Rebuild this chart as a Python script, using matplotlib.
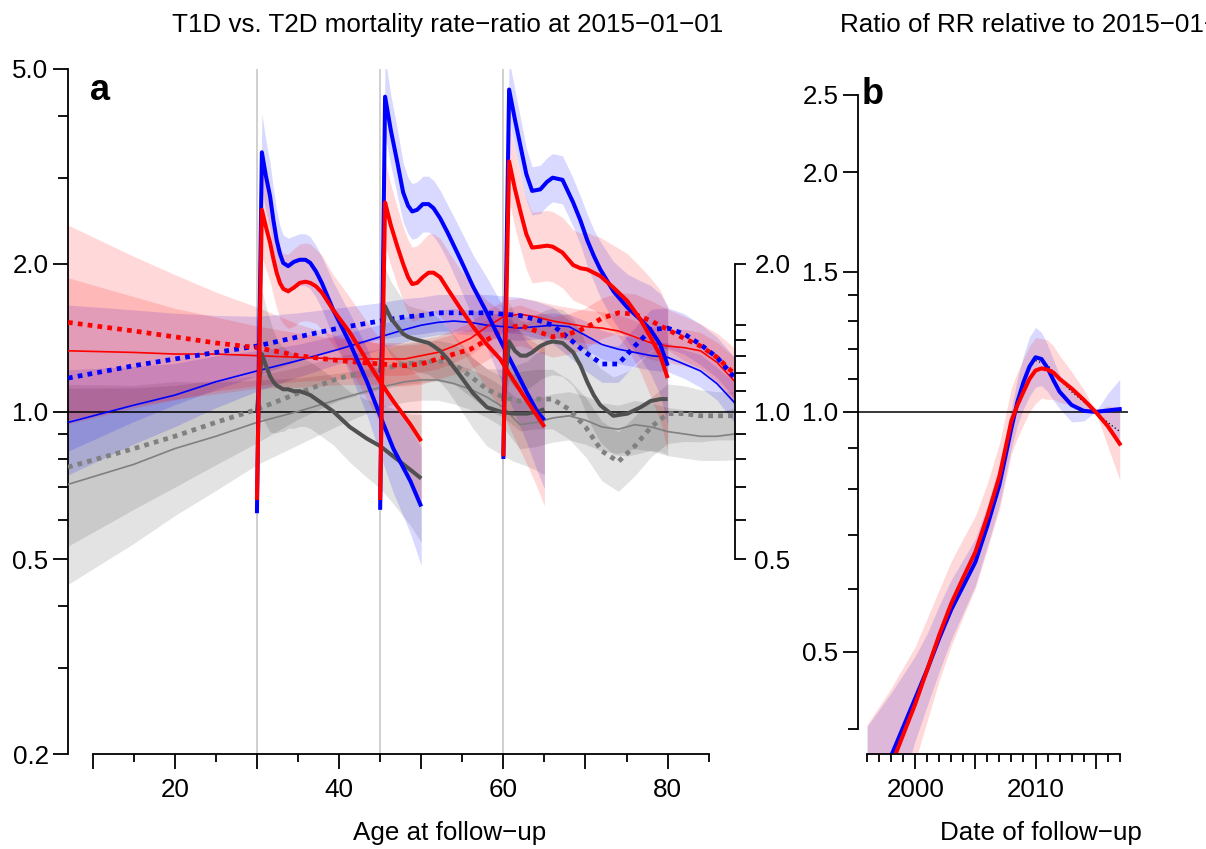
import matplotlib
matplotlib.use("Agg")
import matplotlib.pyplot as plt
from matplotlib.ticker import FixedLocator, FixedFormatter, NullFormatter
import numpy as np

plt.rcParams['font.family'] = ['Liberation Sans', 'DejaVu Sans']

# ---- panel a: smooth age curves (thin = age effect, dotted = second curve) ----
ages = [7, 15, 20, 25, 30, 35, 40, 45, 48, 50, 52, 54, 56, 58, 60, 62, 64, 66,
        68, 70, 72, 74, 76, 78, 80, 82, 84, 86, 88.2]
thin_blue = [0.95, 1.03, 1.08, 1.15, 1.21, 1.27, 1.34, 1.42, 1.47, 1.50, 1.52, 1.53, 1.52, 1.50,
             1.49, 1.48, 1.49, 1.50, 1.49, 1.43, 1.37, 1.34, 1.32, 1.30, 1.29, 1.25, 1.21, 1.14, 1.04]
thin_red = [1.33, 1.32, 1.31, 1.31, 1.30, 1.29, 1.28, 1.28, 1.28, 1.30, 1.32, 1.36, 1.41, 1.49,
            1.56, 1.58, 1.56, 1.53, 1.51, 1.49, 1.48, 1.46, 1.42, 1.38, 1.36, 1.35, 1.33, 1.26, 1.15]
thin_gray = [0.71, 0.78, 0.84, 0.89, 0.95, 1.00, 1.06, 1.12, 1.15, 1.16, 1.16, 1.14, 1.11, 1.07,
             1.02, 0.94, 0.95, 0.97, 0.98, 0.96, 0.93, 0.92, 0.94, 0.93, 0.91, 0.90, 0.89, 0.89, 0.90]
dot_blue = [1.17, 1.24, 1.28, 1.32, 1.36, 1.42, 1.48, 1.53, 1.56, 1.57, 1.59, 1.59, 1.59, 1.59,
            1.58, 1.57, 1.54, 1.50, 1.41, 1.32, 1.25, 1.25, 1.36, 1.47, 1.48, 1.44, 1.37, 1.29, 1.17]
dot_red = [1.52, 1.46, 1.42, 1.38, 1.35, 1.30, 1.27, 1.25, 1.24, 1.25, 1.28, 1.31, 1.34, 1.40,
           1.47, 1.50, 1.46, 1.42, 1.44, 1.48, 1.55, 1.59, 1.58, 1.53, 1.47, 1.41, 1.36, 1.29, 1.19]
dot_gray = [0.77, 0.84, 0.89, 0.95, 1.01, 1.09, 1.17, 1.22, 1.25, 1.26, 1.27, 1.25, 1.18, 1.11,
            1.07, 1.05, 1.06, 1.06, 1.01, 0.93, 0.83, 0.79, 0.85, 0.93, 0.99, 0.99, 0.98, 0.98, 0.98]
# confidence band factors (upper = y*f, lower = y/f)
ci_thin_blue = [1.28, 1.20, 1.16, 1.13, 1.10, 1.08, 1.07, 1.06, 1.06, 1.06, 1.06, 1.06, 1.06, 1.06,
                1.06, 1.06, 1.06, 1.06, 1.06, 1.07, 1.07, 1.07, 1.07, 1.07, 1.07, 1.07, 1.08, 1.08, 1.10]
ci_thin_red = [1.41, 1.30, 1.24, 1.19, 1.15, 1.12, 1.10, 1.08, 1.08, 1.08, 1.08, 1.08, 1.08, 1.08,
               1.08, 1.08, 1.08, 1.08, 1.08, 1.08, 1.08, 1.08, 1.08, 1.08, 1.08, 1.09, 1.09, 1.10, 1.12]
ci_thin_gray = [1.60, 1.45, 1.37, 1.29, 1.22, 1.17, 1.13, 1.10, 1.10, 1.10, 1.10, 1.10, 1.10, 1.10,
                1.10, 1.12, 1.12, 1.12, 1.12, 1.12, 1.12, 1.12, 1.12, 1.12, 1.12, 1.12, 1.12, 1.12, 1.13]
ci_dot_blue = [1.41, 1.30, 1.24, 1.19, 1.15, 1.12, 1.10, 1.09, 1.09, 1.09, 1.09, 1.09, 1.09, 1.09,
               1.09, 1.09, 1.09, 1.09, 1.09, 1.09, 1.09, 1.09, 1.09, 1.10, 1.10, 1.10, 1.10, 1.10, 1.10]
ci_dot_red = [1.58, 1.42, 1.34, 1.27, 1.21, 1.16, 1.12, 1.10, 1.10, 1.10, 1.10, 1.10, 1.10, 1.10,
              1.10, 1.10, 1.10, 1.10, 1.10, 1.10, 1.10, 1.10, 1.10, 1.10, 1.10, 1.11, 1.11, 1.12, 1.13]
ci_dot_gray = [1.45, 1.33, 1.27, 1.22, 1.17, 1.13, 1.11, 1.10, 1.10, 1.10, 1.10, 1.10, 1.10, 1.10,
               1.10, 1.15, 1.15, 1.15, 1.15, 1.15, 1.15, 1.15, 1.15, 1.15, 1.15, 1.14, 1.13, 1.12, 1.12]

# ---- panel a: thick segments starting at ages 30, 45, 60 ----
seg1_age = [30.0, 30.6, 31.1, 31.6, 32.0, 32.4, 32.8, 33.2, 33.8, 34.5, 35.2, 35.9, 36.5, 37.2,
            37.9, 39.3, 41.3, 43.4, 45.0, 46.6, 48.7, 50.0]
seg1_blue = [0.62, 3.38, 3.02, 2.75, 2.46, 2.24, 2.10, 2.01, 1.98, 2.02, 2.04, 2.04, 2.01, 1.93,
             1.83, 1.61, 1.38, 1.15, 0.98, 0.84, 0.72, 0.64]
seg1_red = [0.66, 2.58, 2.38, 2.21, 2.05, 1.92, 1.83, 1.78, 1.76, 1.79, 1.83, 1.84, 1.83, 1.80,
            1.75, 1.61, 1.45, 1.27, 1.15, 1.05, 0.94, 0.87]
seg1_gray = [1.00, 1.31, 1.24, 1.18, 1.15, 1.13, 1.12, 1.11, 1.11, 1.10, 1.10, 1.09, 1.08, 1.06,
             1.04, 1.00, 0.93, 0.88, 0.85, 0.81, 0.76, 0.73]
ci1_blue = [1.05, 1.20, 1.18, 1.17, 1.16, 1.15, 1.14, 1.14, 1.14, 1.13, 1.13, 1.13, 1.13, 1.13,
            1.13, 1.14, 1.15, 1.17, 1.20, 1.23, 1.28, 1.32]
ci1_red = [1.05, 1.25, 1.22, 1.20, 1.19, 1.18, 1.18, 1.18, 1.19, 1.20, 1.20, 1.20, 1.20, 1.19,
           1.19, 1.18, 1.18, 1.20, 1.22, 1.25, 1.30, 1.34]
ci1_gray = [1.05, 1.35, 1.32, 1.30, 1.27, 1.25, 1.23, 1.22, 1.20, 1.19, 1.18, 1.17, 1.17, 1.17,
            1.17, 1.17, 1.18, 1.20, 1.22, 1.25, 1.30, 1.35]

seg2_age = [45.0, 45.6, 46.3, 47.1, 47.8, 48.4, 48.9, 49.5, 50.2, 50.9, 51.5, 52.3, 53.2, 54.8,
            56.3, 58.0, 59.6, 61.2, 62.9, 64.1, 65.0]
seg2_blue = [0.63, 4.39, 3.75, 3.22, 2.80, 2.63, 2.56, 2.58, 2.65, 2.65, 2.60, 2.48, 2.32, 2.04,
             1.80, 1.59, 1.40, 1.24, 1.09, 1.00, 0.96]
seg2_red = [0.66, 2.67, 2.40, 2.17, 2.00, 1.88, 1.82, 1.83, 1.88, 1.92, 1.92, 1.88, 1.78, 1.62,
            1.49, 1.37, 1.28, 1.16, 1.05, 0.98, 0.93]
seg2_gray = [1.20, 1.64, 1.55, 1.49, 1.44, 1.42, 1.41, 1.40, 1.39, 1.38, 1.36, 1.33, 1.28, 1.18,
             1.09, 1.02, 1.00, 0.99, 0.99, 1.00, 1.01]
ci2_blue = [1.05, 1.20, 1.18, 1.17, 1.15, 1.14, 1.14, 1.14, 1.14, 1.14, 1.14, 1.14, 1.14, 1.15,
            1.16, 1.18, 1.20, 1.23, 1.27, 1.32, 1.38]
ci2_red = [1.05, 1.22, 1.21, 1.20, 1.19, 1.19, 1.19, 1.19, 1.19, 1.20, 1.20, 1.20, 1.20, 1.20,
           1.21, 1.23, 1.26, 1.30, 1.35, 1.40, 1.45]
ci2_gray = [1.05, 1.20, 1.19, 1.18, 1.17, 1.16, 1.16, 1.16, 1.16, 1.16, 1.16, 1.16, 1.16, 1.17,
            1.18, 1.20, 1.22, 1.25, 1.28, 1.32, 1.36]

seg3_age = [60.0, 60.7, 61.4, 62.1, 62.8, 63.5, 64.5, 65.3, 66.0, 67.2, 68.5, 69.4, 70.2, 71.0,
            71.8, 73.4, 75.1, 76.7, 77.9, 79.1, 80.0]
seg3_blue = [0.80, 4.54, 3.95, 3.47, 3.05, 2.82, 2.84, 2.94, 3.00, 2.97, 2.67, 2.45, 2.24, 2.08,
             1.95, 1.76, 1.63, 1.54, 1.47, 1.37, 1.24]
seg3_red = [0.81, 3.24, 2.85, 2.55, 2.30, 2.16, 2.17, 2.18, 2.17, 2.11, 1.99, 1.96, 1.95, 1.92,
            1.89, 1.79, 1.68, 1.54, 1.42, 1.30, 1.17]
seg3_gray = [1.05, 1.39, 1.33, 1.30, 1.30, 1.32, 1.36, 1.38, 1.39, 1.38, 1.32, 1.24, 1.15, 1.08,
             1.03, 0.98, 0.99, 1.02, 1.05, 1.06, 1.06]
ci3_blue = [1.05, 1.15, 1.15, 1.14, 1.13, 1.12, 1.12, 1.12, 1.12, 1.12, 1.12, 1.12, 1.13, 1.13,
            1.14, 1.15, 1.17, 1.20, 1.23, 1.27, 1.32]
ci3_red = [1.05, 1.20, 1.20, 1.19, 1.18, 1.18, 1.18, 1.18, 1.18, 1.18, 1.18, 1.18, 1.19, 1.19,
           1.20, 1.22, 1.25, 1.28, 1.32, 1.36, 1.40]
ci3_gray = [1.05, 1.20, 1.19, 1.18, 1.17, 1.17, 1.17, 1.17, 1.17, 1.17, 1.17, 1.17, 1.18, 1.18,
            1.19, 1.20, 1.22, 1.24, 1.26, 1.28, 1.30]

entry_ages = [30, 45, 60]

# ---- panel b: ratio of RR relative to 2015-01-01 ----
years = [1996, 1998, 2000, 2001, 2002, 2003, 2004, 2005, 2006, 2007, 2008, 2008.5, 2009,
         2009.5, 2010, 2010.5, 2011, 2011.5, 2012, 2013, 2014, 2015, 2016, 2017]
rr_blue = [0.31, 0.37, 0.437, 0.475, 0.52, 0.565, 0.605, 0.648, 0.72, 0.81, 0.955, 1.03, 1.09,
           1.14, 1.171, 1.165, 1.135, 1.095, 1.06, 1.02, 1.003, 1.0, 1.004, 1.008]
rr_red = [0.30, 0.36, 0.43, 0.475, 0.525, 0.575, 0.62, 0.667, 0.74, 0.83, 0.975, 1.02, 1.06,
          1.10, 1.127, 1.134, 1.13, 1.12, 1.10, 1.07, 1.036, 1.0, 0.96, 0.912]
ci_rr_blue = [1.30, 1.20, 1.13, 1.11, 1.10, 1.09, 1.08, 1.07, 1.06, 1.06, 1.06, 1.07, 1.08,
              1.09, 1.09, 1.08, 1.07, 1.06, 1.05, 1.05, 1.03, 1.00, 1.05, 1.09]
ci_rr_red = [1.35, 1.25, 1.18, 1.16, 1.14, 1.13, 1.12, 1.11, 1.10, 1.10, 1.10, 1.10, 1.10,
             1.10, 1.10, 1.09, 1.09, 1.08, 1.07, 1.05, 1.03, 1.00, 1.06, 1.11]
dot_years = [2010, 2011, 2012, 2013, 2014, 2015, 2016, 2017]
rr_dot = [1.16, 1.145, 1.10, 1.06, 1.03, 1.00, 0.97, 0.945]

BLUE, RED, DGRAY, GRAY = '#0000ff', '#ff0000', '#505050', '#808080'
FS = 18.7
W, H = 1206, 849


def band(ax, x, y, ci, color, alpha):
    y = np.asarray(y)
    ci = np.asarray(ci)
    ax.fill_between(x, y / ci, y * ci, color=color, alpha=alpha, lw=0)


def log_axis(axis, major, labels, minor):
    axis.set_major_locator(FixedLocator(major))
    axis.set_major_formatter(FixedFormatter(labels))
    axis.set_minor_locator(FixedLocator(minor))
    axis.set_minor_formatter(NullFormatter())


fig = plt.figure(figsize=(W / 100, H / 100), dpi=100)

# ===== panel a =====
ax = fig.add_axes([68 / W, 1 - 754 / H, 667 / W, 685 / H])
ax.set_yscale('log')
ax.set_xlim(7.0, 88.2)
ax.set_ylim(0.2, 5.0)

for a in entry_ages:
    ax.axvline(a, color='#c8c8c8', lw=1.2, zorder=1)

band(ax, ages, thin_gray, ci_thin_gray, 'black', 0.11)
band(ax, ages, dot_gray, ci_dot_gray, 'black', 0.11)
band(ax, ages, thin_blue, ci_thin_blue, BLUE, 0.15)
band(ax, ages, dot_blue, ci_dot_blue, BLUE, 0.15)
band(ax, ages, thin_red, ci_thin_red, RED, 0.15)
band(ax, ages, dot_red, ci_dot_red, RED, 0.15)

segs = [(seg1_age, seg1_blue, seg1_red, seg1_gray, ci1_blue, ci1_red, ci1_gray),
        (seg2_age, seg2_blue, seg2_red, seg2_gray, ci2_blue, ci2_red, ci2_gray),
        (seg3_age, seg3_blue, seg3_red, seg3_gray, ci3_blue, ci3_red, ci3_gray)]
for sa, sb, sr, sg, cb, cr, cg in segs:
    band(ax, sa, sg, cg, 'black', 0.11)
    band(ax, sa, sb, cb, BLUE, 0.15)
    band(ax, sa, sr, cr, RED, 0.15)

ax.axhline(1.0, color='black', lw=1.1, zorder=2)

ax.plot(ages, thin_gray, color=GRAY, lw=1.2, zorder=3)
ax.plot(ages, thin_blue, color=BLUE, lw=1.2, zorder=3)
ax.plot(ages, thin_red, color=RED, lw=1.2, zorder=3)
for ys, c in [(dot_gray, GRAY), (dot_blue, BLUE), (dot_red, RED)]:
    ax.plot(ages, ys, color=c, lw=3.4, dashes=(1, 1.1), dash_capstyle='butt', zorder=4)
for sa, sb, sr, sg, cb, cr, cg in segs:
    ax.plot(sa, sg, color=DGRAY, lw=2.9, zorder=5, solid_capstyle='butt', solid_joinstyle='round')
    ax.plot(sa, sb, color=BLUE, lw=2.9, zorder=5, solid_capstyle='butt', solid_joinstyle='round')
    ax.plot(sa, sr, color=RED, lw=2.9, zorder=6, solid_capstyle='butt', solid_joinstyle='round')

for s in ['top', 'right']:
    ax.spines[s].set_visible(False)
ax.spines['left'].set_bounds(0.2, 5.0)
ax.spines['bottom'].set_bounds(10, 85)
for s in ['left', 'bottom']:
    ax.spines[s].set_linewidth(1.3)

log_axis(ax.yaxis, [0.2, 0.5, 1.0, 2.0, 5.0], ['0.2', '0.5', '1.0', '2.0', '5.0'],
         [0.3, 0.4, 0.6, 0.7, 0.8, 0.9, 3, 4])
ax.xaxis.set_major_locator(FixedLocator([10, 20, 30, 40, 50, 60, 70, 80]))
ax.xaxis.set_major_formatter(FixedFormatter(['', '20', '', '40', '', '60', '', '80']))
ax.xaxis.set_minor_locator(FixedLocator([15, 25, 35, 45, 55, 65, 75, 85]))
ax.tick_params(axis='y', which='major', length=11, width=1.3, pad=3, labelsize=FS)
ax.tick_params(axis='y', which='minor', length=7, width=1.3)
ax.tick_params(axis='x', which='major', length=11, width=1.3, pad=6, labelsize=FS)
ax.tick_params(axis='x', which='minor', length=6, width=1.3)

# right-hand axis of panel a
ax2 = ax.twinx()
ax2.set_yscale('log')
ax2.set_ylim(ax.get_ylim())
for s in ['top', 'left', 'bottom']:
    ax2.spines[s].set_visible(False)
ax2.spines['right'].set_bounds(0.5, 2.0)
ax2.spines['right'].set_linewidth(1.3)
log_axis(ax2.yaxis, [0.5, 1.0, 2.0], ['0.5', '1.0', '2.0'],
         [0.6, 0.7, 0.8, 0.9, 1.1, 1.2, 1.3, 1.4, 1.5])
ax2.tick_params(axis='y', which='major', length=8, width=1.3, pad=6, labelsize=FS)
ax2.tick_params(axis='y', which='minor', length=8, width=1.3)

# ===== panel b =====
bx = fig.add_axes([858 / W, 1 - 754 / H, 270 / W, 685 / H])
bx.set_yscale('log')
bx.set_xlim(1995.24, 2017.69)
bx.set_ylim(0.372, 2.694)

band(bx, years, rr_blue, ci_rr_blue, BLUE, 0.15)
band(bx, years, rr_red, ci_rr_red, RED, 0.15)
bx.axhline(1.0, color='black', lw=1.1)
bx.plot(dot_years, rr_dot, color='black', lw=0.9, ls=(0, (1, 2)))
bx.plot(years, rr_blue, color=BLUE, lw=2.9, solid_joinstyle='round')
bx.plot(years, rr_red, color=RED, lw=2.9, solid_joinstyle='round')

for s in ['top', 'right']:
    bx.spines[s].set_visible(False)
bx.spines['left'].set_bounds(0.4, 2.5)
bx.spines['bottom'].set_bounds(1996, 2017)
for s in ['left', 'bottom']:
    bx.spines[s].set_linewidth(1.3)
log_axis(bx.yaxis, [0.5, 1.0, 1.5, 2.0, 2.5], ['0.5', '1.0', '1.5', '2.0', '2.5'],
         [0.4, 0.6, 0.7, 0.8, 0.9, 1.1, 1.2, 1.3, 1.4])
bx.xaxis.set_major_locator(FixedLocator([2000, 2005, 2010, 2015]))
bx.xaxis.set_major_formatter(FixedFormatter(['2000', '', '2010', '']))
bx.xaxis.set_minor_locator(FixedLocator([y for y in range(1996, 2018) if y % 5]))
bx.tick_params(axis='y', which='major', length=11, width=1.3, pad=3, labelsize=FS)
bx.tick_params(axis='y', which='minor', length=7, width=1.3)
bx.tick_params(axis='x', which='major', length=11, width=1.3, pad=6, labelsize=FS)
bx.tick_params(axis='x', which='minor', length=6, width=1.3)

# ===== texts =====
fig.text(448 / W, 1 - 25 / H, 'T1D vs. T2D mortality rate\u2212ratio at 2015\u221201\u221201',
         ha='center', va='center', fontsize=FS)
# the reference shows this title running off the right edge of the figure
fig.text(840 / W, 1 - 25 / H, 'Ratio of RR relative to 2015\u221201\u221201',
         ha='left', va='center', fontsize=FS)
fig.text(450 / W, 1 - 833 / H, 'Age at follow\u2212up', ha='center', va='center', fontsize=FS)
fig.text(1041 / W, 1 - 833 / H, 'Date of follow\u2212up', ha='center', va='center', fontsize=FS)
fig.text(90 / W, 1 - 100 / H, 'a', fontsize=26, fontweight='bold', va='baseline')
fig.text(862 / W, 1 - 104 / H, 'b', fontsize=26, fontweight='bold', va='baseline')

fig.savefig('out.png', dpi=100)
